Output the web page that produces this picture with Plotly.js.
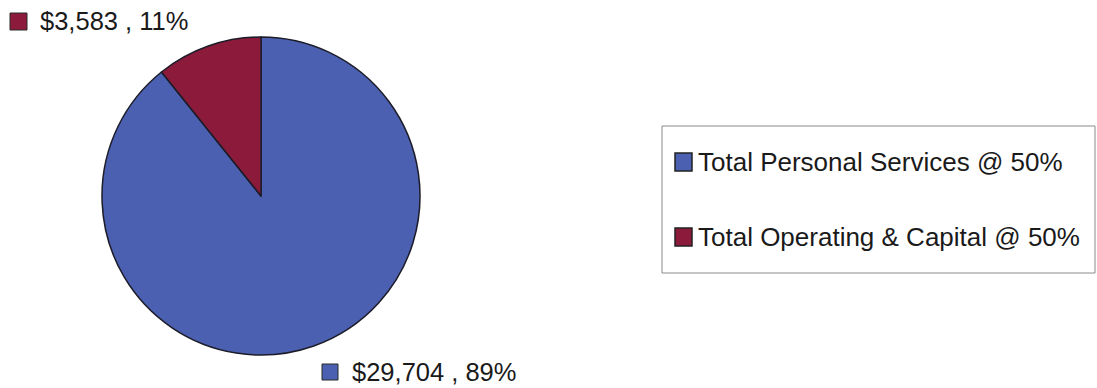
<!DOCTYPE html>
<html>
<head>
<meta charset="utf-8">
<script src="https://cdn.plot.ly/plotly-3.0.1.min.js"></script>
<style>
  html, body { margin: 0; padding: 0; background: #ffffff; }
  #chart { width: 1097px; height: 388px; }
</style>
</head>
<body>
<div id="chart"></div>
<script>
// ---- Data ----
const categories = ["Total Personal Services @ 50%", "Total Operating & Capital @ 50%"];
const amounts = [29704, 3583];
const sliceColors = ["#4b60b0", "#8c1b3b"];

// ---- Derived label text ----
const total = amounts.reduce((a, b) => a + b, 0);
const labelText = amounts.map(v => "$" + v.toLocaleString("en-US") + " , " + Math.round(100 * v / total) + "%");

const W = 1097, H = 388;
const px = x => x / W;
const py = y => 1 - y / H;

const trace = {
  type: "pie",
  labels: categories,
  values: amounts,
  sort: false,
  direction: "clockwise",
  rotation: 0,
  textinfo: "none",
  hoverinfo: "label+value+percent",
  showlegend: false,
  marker: { colors: sliceColors, line: { color: "#1c1c28", width: 1.5 } },
  domain: { x: [px(102), px(420)], y: [py(355), py(37)] }
};

const font = { family: "Arial, 'Liberation Sans', sans-serif", color: "#1a1a1a" };

// data label positions (per slice) and legend rows
const labelPos = [ { sx: 322, sy: 364, sz: 16, tx: 350, ty: 372 }, { sx: 10, sy: 13, sz: 17, tx: 38, ty: 21 } ];
const legendRowY = [162, 237];

const shapes = [];
const annotations = [];

// legend box
shapes.push({ type: "rect", xref: "paper", yref: "paper",
  x0: px(662), x1: px(1095), y0: py(273), y1: py(126),
  line: { color: "#8a8a8a", width: 1 }, fillcolor: "rgba(0,0,0,0)" });

categories.forEach((c, i) => {
  // data label marker + text
  const p = labelPos[i];
  shapes.push({ type: "rect", xref: "paper", yref: "paper",
    x0: px(p.sx), x1: px(p.sx + p.sz), y0: py(p.sy + p.sz), y1: py(p.sy),
    line: { color: "#2a2a2a", width: 1 }, fillcolor: sliceColors[i] });
  annotations.push({ xref: "paper", yref: "paper", x: px(p.tx), y: py(p.ty),
    xanchor: "left", yanchor: "middle", showarrow: false,
    text: labelText[i], font: Object.assign({ size: 25.5 }, font) });

  // legend entries
  const ly = legendRowY[i];
  shapes.push({ type: "rect", xref: "paper", yref: "paper",
    x0: px(675), x1: px(692), y0: py(ly + 9), y1: py(ly - 9),
    line: { color: "#222", width: 1.5 }, fillcolor: sliceColors[i] });
  annotations.push({ xref: "paper", yref: "paper", x: px(696), y: py(ly),
    xanchor: "left", yanchor: "middle", showarrow: false,
    text: c, font: Object.assign({ size: 26 }, font) });
});

const layout = {
  width: W, height: H,
  margin: { l: 0, r: 0, t: 0, b: 0 },
  paper_bgcolor: "#ffffff",
  plot_bgcolor: "#ffffff",
  showlegend: false,
  shapes: shapes,
  annotations: annotations
};

Plotly.newPlot("chart", [trace], layout, { displayModeBar: false, staticPlot: true });
</script>
</body>
</html>
